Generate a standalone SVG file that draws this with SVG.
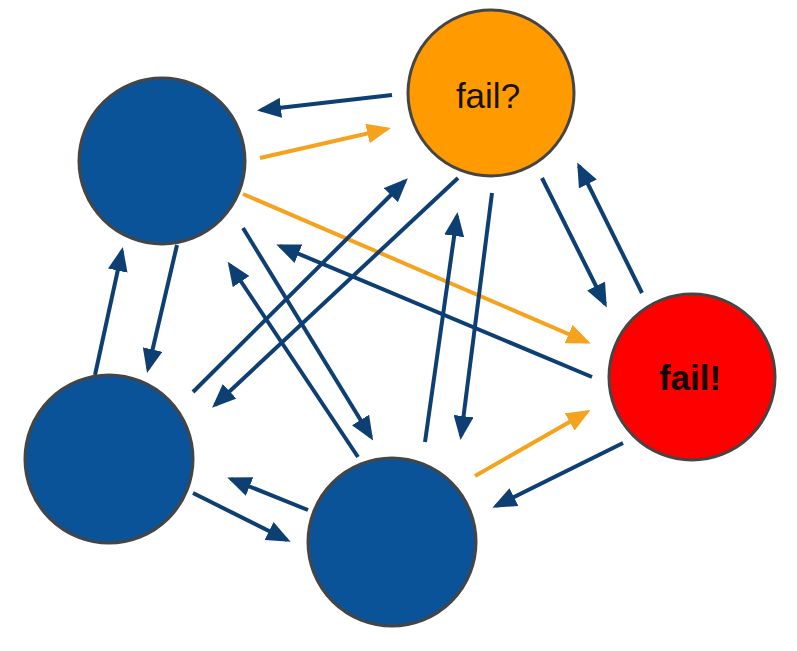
<svg xmlns="http://www.w3.org/2000/svg" width="797" height="651" viewBox="0 0 797 651">
<style>
.node{stroke:#454545;stroke-width:3}
.blue{fill:#0b5399}
.c{stroke-width:4;fill:none;stroke-linecap:butt}
.db{stroke:#0d3f73;marker-end:url(#hb)}
.or{stroke:#f5a31e;marker-end:url(#ho)}
.lbl{font-family:"Liberation Sans",Arial,sans-serif;font-size:35px;fill:#1a1208;text-anchor:middle}
</style>
<defs>
<marker id="hb" markerUnits="userSpaceOnUse" viewBox="0 0 24 20" refX="20" refY="10" markerWidth="24" markerHeight="20" orient="auto">
<path d="M0,0 L24,10 L0,20 z" fill="#0d3f73"/>
</marker>
<marker id="ho" markerUnits="userSpaceOnUse" viewBox="0 0 24 20" refX="20" refY="10" markerWidth="24" markerHeight="20" orient="auto">
<path d="M0,0 L24,10 L0,20 z" fill="#f5a31e"/>
</marker>
</defs>
<rect width="797" height="651" fill="#ffffff"/>
<g id="connectors">
<line class="c db" x1="392" y1="95" x2="261" y2="110"/>
<line class="c or" x1="260" y1="158" x2="387" y2="129"/>
<line class="c or" x1="243" y1="194" x2="587" y2="342"/>
<line class="c db" x1="592" y1="377" x2="280" y2="246"/>
<line class="c db" x1="193" y1="392" x2="405" y2="181"/>
<line class="c db" x1="458" y1="178" x2="215" y2="405"/>
<line class="c db" x1="243" y1="228" x2="371" y2="437"/>
<line class="c db" x1="358" y1="457" x2="230" y2="265"/>
<line class="c db" x1="425" y1="442" x2="457" y2="216"/>
<line class="c db" x1="492" y1="193" x2="461" y2="436"/>
<line class="c db" x1="542" y1="178" x2="605" y2="304"/>
<line class="c db" x1="642" y1="293" x2="579" y2="166"/>
<line class="c db" x1="177" y1="245" x2="148" y2="369"/>
<line class="c db" x1="95" y1="375" x2="122" y2="251"/>
<line class="c db" x1="193" y1="493" x2="287" y2="540"/>
<line class="c db" x1="308" y1="510" x2="231" y2="479"/>
<line class="c or" x1="475" y1="476" x2="587" y2="412"/>
<line class="c db" x1="623" y1="443" x2="496" y2="506"/>
</g>
<g id="nodeA"><circle class="node blue" cx="162" cy="161" r="83"/></g>
<g id="nodeFailQ"><circle class="node" cx="491" cy="93" r="83" fill="#ff9b00"/><text class="lbl" x="488" y="108">fail?</text></g>
<g id="nodeFailX"><circle class="node" cx="692" cy="377" r="83" fill="#ff0000"/><text class="lbl" x="690" y="390" font-weight="bold" style="fill:#120202">fail!</text></g>
<g id="nodeB"><circle class="node blue" cx="109" cy="459" r="84"/></g>
<g id="nodeC"><circle class="node blue" cx="392" cy="542" r="84"/></g>
</svg>
